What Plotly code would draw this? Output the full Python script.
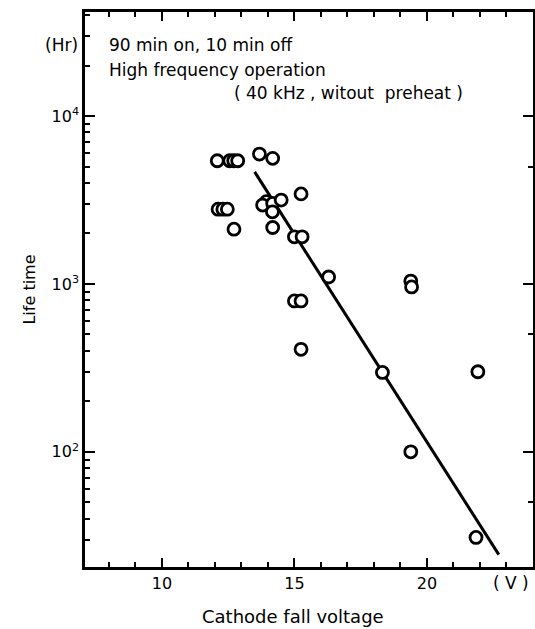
import plotly.graph_objects as go
import math

# ---- data ----
voltage = [12.09, 12.56, 12.71, 12.86, 13.68, 14.18,
           13.94, 13.80, 14.18, 14.50, 14.17, 14.18,
           12.12, 12.30, 12.47, 12.72,
           15.25, 15.00, 15.29, 16.29,
           15.00, 15.25, 15.25,
           19.39, 19.42, 18.32, 21.92, 19.39, 21.85]
life_hr = [5420, 5420, 5420, 5420, 5940, 5600,
           3090, 2950, 3020, 3160, 2690, 2170,
           2790, 2790, 2790, 2120,
           3440, 1910, 1910, 1100,
           792, 792, 408,
           1040, 960, 297, 300, 100, 30.9]

fit_voltage = [13.5, 22.71]
fit_life = [4650, 24.4]

x_tick_vals = [10, 15, 20]
x_tick_text = ["10", "15", "20"]
x_minor = [8, 9, 11, 12, 13, 14, 16, 17, 18, 19, 21, 22, 23]
y_tick_vals = [100, 1000, 10000]
y_tick_text = ["10<sup>2</sup>", "10<sup>3</sup>", "10<sup>4</sup>"]
y_right_minor = [50, 500, 5000]

y_minor = [m * d for d in (10, 100, 1000, 10000) for m in range(2, 10) if m * d < 45000]

FONT = "DejaVu Sans"
yr = [math.log10(20.6), math.log10(41700)]
xr = [7.1, 24.0]

fig = go.Figure()
fig.add_trace(go.Scatter(x=fit_voltage, y=fit_life, mode="lines",
                         line=dict(color="black", width=3), showlegend=False))
fig.add_trace(go.Scatter(x=voltage, y=life_hr, mode="markers",
                         marker=dict(symbol="circle", size=12, color="white",
                                     line=dict(color="black", width=2.8)),
                         showlegend=False))
fig.add_trace(go.Scatter(x=[None], y=[None], xaxis="x2", yaxis="y2", showlegend=False))

fig.update_layout(
    width=535, height=629,
    margin=dict(l=85, r=2, t=12, b=62),
    plot_bgcolor="white", paper_bgcolor="white",
    font=dict(family=FONT, color="black", size=16),
    xaxis=dict(range=xr, showline=True, linecolor="black", linewidth=2.5,
               ticks="inside", ticklen=9, tickwidth=2, tickcolor="black",
               tickvals=x_tick_vals, ticktext=x_tick_text,
               minor=dict(tickvals=x_minor, ticks="inside", ticklen=5, tickwidth=2,
                          tickcolor="black")),
    xaxis2=dict(range=xr, overlaying="x", side="top", anchor="y2",
                showline=True, linecolor="black", linewidth=2.5, showticklabels=False,
                ticks="inside", ticklen=9, tickwidth=2, tickcolor="black",
                tickvals=x_tick_vals,
                minor=dict(tickvals=x_minor, ticks="inside", ticklen=5, tickwidth=2,
                           tickcolor="black")),
    yaxis=dict(type="log", range=yr,
               showline=True, linecolor="black", linewidth=2.5,
               ticks="inside", ticklen=10, tickwidth=2, tickcolor="black",
               tickvals=y_tick_vals, ticktext=y_tick_text,
               minor=dict(tickvals=y_minor, ticks="inside", ticklen=5, tickwidth=2,
                          tickcolor="black"),
               title=dict(text="Life time", font=dict(size=16, family=FONT),
                          standoff=12)),
    yaxis2=dict(type="log", range=yr, overlaying="y", side="right", anchor="x2",
                showticklabels=False,
                showline=True, linecolor="black", linewidth=2.5,
                ticks="inside", ticklen=10, tickwidth=2, tickcolor="black",
                tickvals=y_tick_vals,
                minor=dict(tickvals=y_right_minor, ticks="inside", ticklen=5, tickwidth=2,
                           tickcolor="black")),
)

notes = [
    ("90 min on, 10 min off", 0.049, 0.9405, "left"),
    ("High frequency operation", 0.049, 0.8955, "left"),
    ("( 40 kHz , witout  preheat )", 0.328, 0.854, "left"),
    ("(Hr)", -0.011, 0.9405, "right"),
    ("( V )", 0.951, -0.029, "center"),
]
for txt, x, y, xa in notes:
    fig.add_annotation(text=txt, x=x, y=y, xref="paper", yref="paper",
                       xanchor=xa, yanchor="middle", showarrow=False,
                       font=dict(size=17, family=FONT, color="black"))
fig.add_annotation(text="Cathode fall voltage", x=0.465, y=-0.09, xref="paper", yref="paper",
                   xanchor="center", yanchor="middle", showarrow=False,
                   font=dict(size=18, family=FONT, color="black"))

fig.write_html("out.html")
